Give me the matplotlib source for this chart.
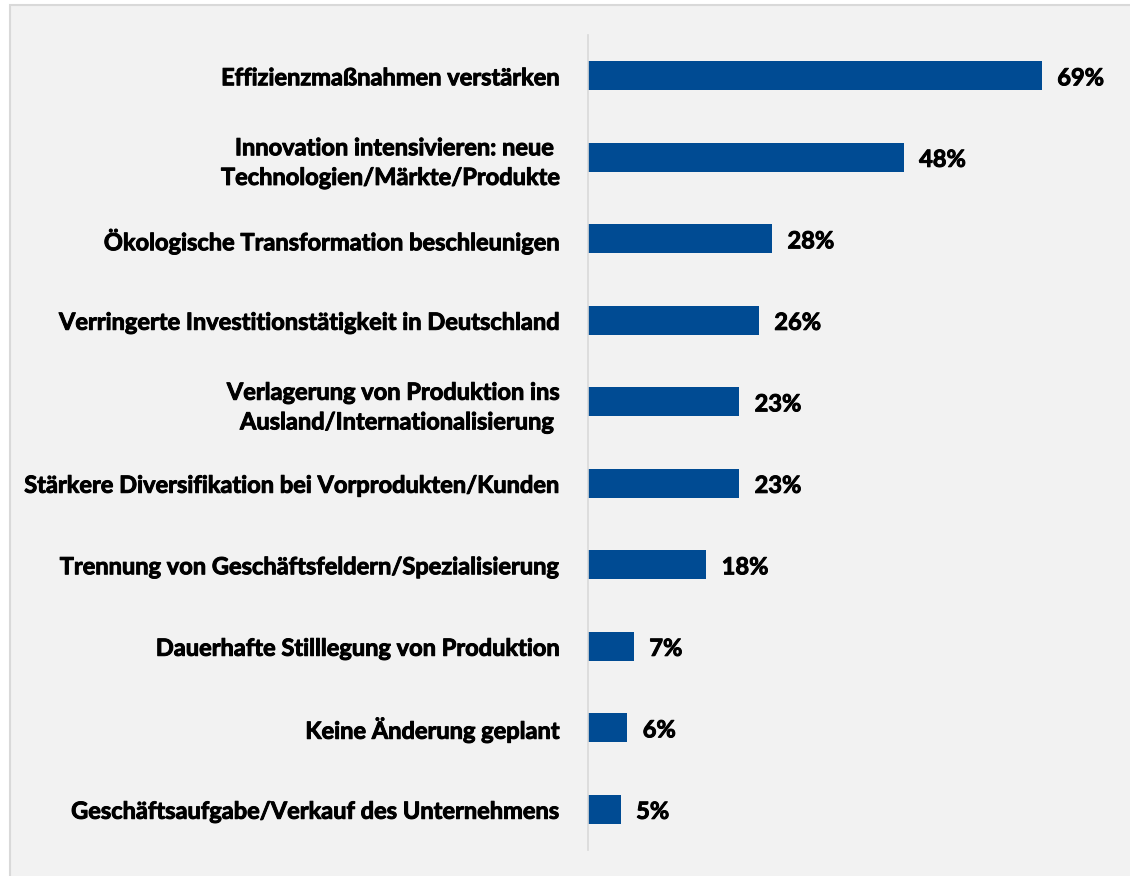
import matplotlib
matplotlib.use("Agg")
import matplotlib.pyplot as plt
import matplotlib.patheffects as pe
from matplotlib.patches import Rectangle

categories = [
    "Effizienzmaßnahmen verstärken",
    "Innovation intensivieren: neue \nTechnologien/Märkte/Produkte",
    "Ökologische Transformation beschleunigen",
    "Verringerte Investitionstätigkeit in Deutschland",
    "Verlagerung von Produktion ins\nAusland/Internationalisierung ",
    "Stärkere Diversifikation bei Vorprodukten/Kunden",
    "Trennung von Geschäftsfeldern/Spezialisierung",
    "Dauerhafte Stilllegung von Produktion",
    "Keine Änderung geplant",
    "Geschäftsaufgabe/Verkauf des Unternehmens",
]
values = [69, 48, 28, 26, 23, 23, 18, 7, 6, 5]
value_labels = ["69%", "48%", "28%", "26%", "23%", "23%", "18%", "7%", "6%", "5%"]

W, H = 1130, 876
DPI = 100
plt.rcParams['font.family'] = ['Lato', 'DejaVu Sans']
thick = [pe.withStroke(linewidth=0.7, foreground='black')]

fig = plt.figure(figsize=(W / DPI, H / DPI), dpi=DPI, facecolor='white')
# background panel
fig.patches.append(Rectangle((10 / W, -0.01), 1.2, 1 - 5 / H + 0.01,
                             transform=fig.transFigure, facecolor='#f2f2f2',
                             edgecolor='#d9d9d9', linewidth=1.5, zorder=-5))

left = 588 / W
right = 1120 / W
top = 1 - 35 / H
bottom = 1 - 850 / H
ax = fig.add_axes([left, bottom, right - left, top - bottom])
ax.set_facecolor('none')
ax.set_zorder(5)

y = list(range(len(categories)))
ax.barh(y, values, height=0.36, color='#004B93', zorder=2)
ax.set_ylim(len(categories) - 0.5, -0.5)
ax.set_xlim(0, (1120 - 588) / 6.58)

ax.set_yticks(y)
ax.set_yticklabels(categories, fontsize=17, fontweight='bold', color='black',
                   linespacing=1.35)
for t in ax.get_yticklabels():
    t.set_path_effects(thick)
ax.tick_params(axis='y', length=0, pad=20)
ax.set_xticks([])

for s in ['top', 'right', 'bottom']:
    ax.spines[s].set_visible(False)
ax.spines['left'].set_color('#d9d9d9')
ax.spines['left'].set_linewidth(1.2)

for yi, v, lab in zip(y, values, value_labels):
    ax.annotate(lab, xy=(v, yi), xytext=(11, -1.5), textcoords='offset points',
                ha='left', va='center', fontsize=17, fontweight='bold', color='black',
                path_effects=thick)

fig.savefig('out.png', dpi=DPI, facecolor='white')
